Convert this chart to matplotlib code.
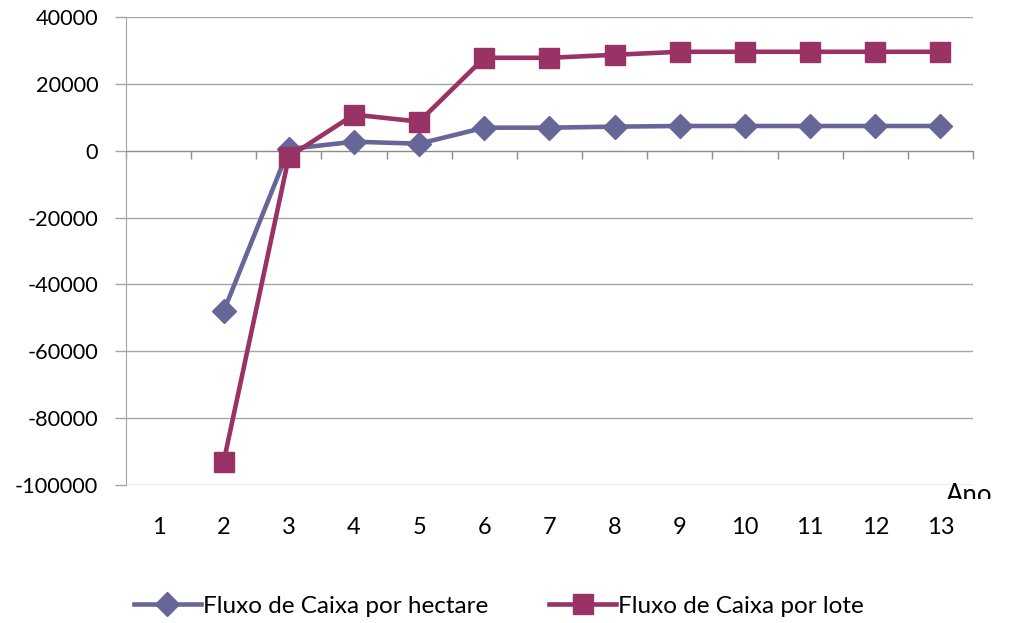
import matplotlib
matplotlib.use('Agg')
import matplotlib.pyplot as plt
from matplotlib.transforms import Bbox, TransformedBbox, blended_transform_factory

plt.rcParams['font.family'] = ['Lato', 'DejaVu Sans']

anos = [1, 2, 3, 4, 5, 6, 7, 8, 9, 10, 11, 12, 13]
# year 1 has no value in the source
fluxo_hectare = [None, -48000, 500, 2700, 2100, 6900, 6900, 7200, 7400, 7400, 7400, 7400, 7400]
fluxo_lote = [None, -93000, -1800, 10800, 8700, 27800, 27800, 28700, 29600, 29600, 29600, 29600, 29600]
y_ticks = [-100000, -80000, -60000, -40000, -20000, 0, 20000, 40000]

COR_HA = '#666699'
COR_LOTE = '#993366'
GRID = '#a6a6a6'

fig = plt.figure(figsize=(10.15, 6.23), dpi=100)
ax = fig.add_axes([0.1241, 0.2215, 0.8345, 0.7512])

xs_ha = [x for x, v in zip(anos, fluxo_hectare) if v is not None]
ys_ha = [v for v in fluxo_hectare if v is not None]
xs_lt = [x for x, v in zip(anos, fluxo_lote) if v is not None]
ys_lt = [v for v in fluxo_lote if v is not None]

ax.plot(xs_ha, ys_ha, color=COR_HA, lw=3.3, marker='D', ms=12.5, mec=COR_HA,
        label='Fluxo de Caixa por hectare', zorder=3)
ax.plot(xs_lt, ys_lt, color=COR_LOTE, lw=3.3, marker='s', ms=15, mec=COR_LOTE,
        label='Fluxo de Caixa por lote', zorder=4)

ax.set_xlim(anos[0] - 0.5, anos[-1] + 0.5)
ax.set_ylim(y_ticks[0], y_ticks[-1])
ax.set_yticks(y_ticks)
ax.set_yticklabels([str(t) for t in y_ticks], fontsize=15.7)
ax.tick_params(axis='y', length=8, color=GRID, pad=12, width=1)
ax.yaxis.grid(True, color=GRID, lw=1)
ax.set_axisbelow(True)

# category axis crosses at zero, ticks between categories
ax.spines['bottom'].set_position(('data', 0))
ax.spines['bottom'].set_color('#8c8c8c')
ax.spines['left'].set_color(GRID)
ax.spines['top'].set_visible(False)
ax.spines['right'].set_visible(False)
ax.set_xticks([a - 0.5 for a in anos] + [anos[-1] + 0.5])
ax.set_xticklabels([])
ax.tick_params(axis='x', direction='out', length=6, color='#8c8c8c', width=1)

trans = blended_transform_factory(ax.transData, ax.transAxes)
for a in anos:
    ax.text(a, -0.09, str(a), transform=trans, ha='center', va='center', fontsize=17)

# axis title "Ano", cut off at the bottom like the source
t = fig.text(0.955, 0.224, 'Ano', ha='center', va='top', fontsize=18.5)
t.set_clip_box(TransformedBbox(Bbox([[0, 0.199], [1, 1]]), fig.transFigure))

ax.legend(loc='center', bbox_to_anchor=(0.4916, 0.027), bbox_transform=fig.transFigure,
          ncol=2, frameon=False, fontsize=17.5, handlelength=2.75, handletextpad=0.1,
          columnspacing=2.5)

fig.savefig('out.png', dpi=100)
